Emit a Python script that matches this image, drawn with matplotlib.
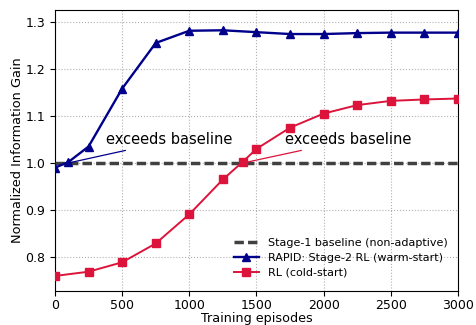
import numpy as np
import matplotlib
matplotlib.use('Agg')
import matplotlib.pyplot as plt

# Training episodes at which the curves were evaluated
episodes_warm = [0, 100, 250, 500, 750, 1000, 1250, 1500, 1750, 2000, 2250, 2500, 2750, 3000]
gain_warm = [0.990, 1.002, 1.035, 1.158, 1.255, 1.281, 1.282, 1.278, 1.274, 1.274, 1.276, 1.277, 1.277, 1.277]

episodes_cold = [0, 250, 500, 750, 1000, 1250, 1400, 1500, 1750, 2000, 2250, 2500, 2750, 3000]
gain_cold = [0.760, 0.769, 0.789, 0.829, 0.891, 0.965, 1.003, 1.030, 1.075, 1.105, 1.123, 1.132, 1.135, 1.137]

baseline = 1.0
crossings = [100, 1400]   # where each RL curve exceeds the baseline

fig = plt.figure(figsize=(4.76, 3.25), dpi=100)
ax = fig.add_axes([0.1155, 0.1046, 0.8465, 0.8645])

ax.axhline(baseline, color='#404040', linestyle='--', linewidth=2.5,
           dashes=(2.7, 1.2), label='Stage-1 baseline (non-adaptive)', zorder=3)
ax.plot(episodes_warm, gain_warm, color='#00008B', marker='^', markersize=5.5,
        linewidth=1.7, label='RAPID: Stage-2 RL (warm-start)', zorder=4)
ax.plot(episodes_cold, gain_cold, color='#DC143C', marker='s', markersize=5.5,
        linewidth=1.4, label='RL (cold-start)', zorder=4)

# annotations
ax.annotate('', xy=(crossings[0], baseline), xytext=(545, 1.028),
            arrowprops=dict(arrowstyle='-', color='#00008B', lw=0.9))
ax.text(380, 1.049, 'exceeds baseline', fontsize=10.5, va='center', ha='left')
ax.annotate('', xy=(crossings[1], baseline), xytext=(1855, 1.028),
            arrowprops=dict(arrowstyle='-', color='#DC143C', lw=0.9))
ax.text(1712, 1.049, 'exceeds baseline', fontsize=10.5, va='center', ha='left')

ax.set_xlim(0, 3000)
ax.set_ylim(0.728, 1.325)
ax.set_xticks([0, 500, 1000, 1500, 2000, 2500, 3000])
ax.set_yticks([0.8, 0.9, 1.0, 1.1, 1.2, 1.3])
ax.tick_params(labelsize=9)
ax.tick_params(axis='x', pad=2.5)
ax.grid(True, linestyle=':', color='#b0b0b0', linewidth=0.8)
ax.set_axisbelow(True)
ax.set_xlabel('Training episodes', fontsize=9.2, labelpad=-0.5)
ax.set_ylabel('Normalized Information Gain', fontsize=9.3, labelpad=1)

ax.legend(loc='lower right', fontsize=8, frameon=False,
          bbox_to_anchor=(1.0, 0.012), handlelength=2.3, labelspacing=0.45)

fig.savefig('out.png', dpi=100)
